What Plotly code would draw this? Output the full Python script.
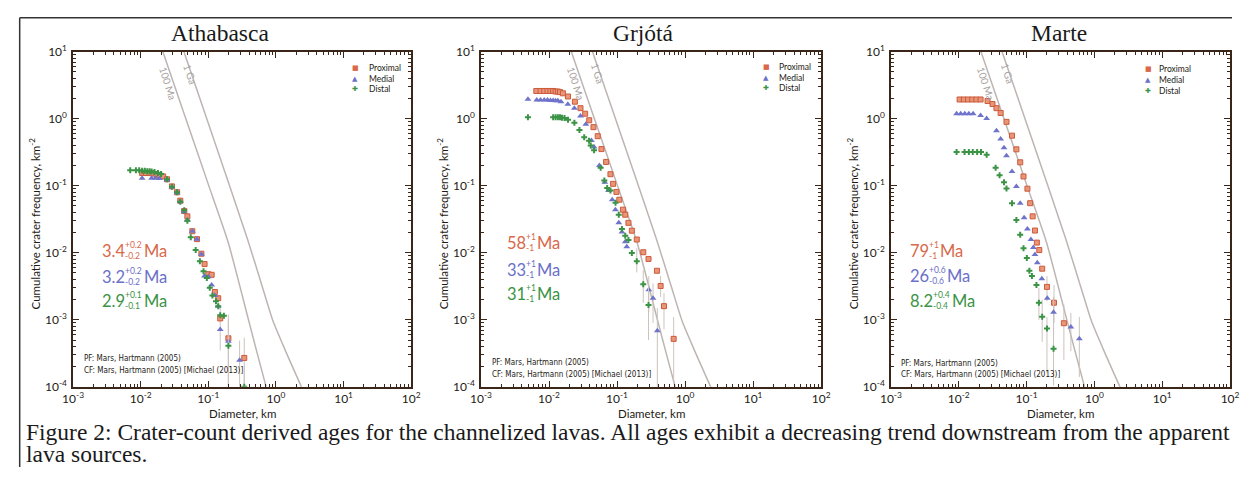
import plotly.graph_objects as go

# ------------------------------------------------------------------ data
panel_titles = ["Athabasca", "Grjótá", "Marte"]
series_names = ["Proximal", "Medial", "Distal"]

x_tickvals = [0.001, 0.01, 0.1, 1, 10, 100]
x_ticktext = ["10<sup>-3</sup>", "10<sup>-2</sup>", "10<sup>-1</sup>", "10<sup>0</sup>", "10<sup>1</sup>", "10<sup>2</sup>"]
y_tickvals = [0.0001, 0.001, 0.01, 0.1, 1, 10]
y_ticktext = ["10<sup>-4</sup>", "10<sup>-3</sup>", "10<sup>-2</sup>", "10<sup>-1</sup>", "10<sup>0</sup>", "10<sup>1</sup>"]

# Isochrons (Hartmann 2005 PF)
iso_100ma_D = [0.0126, 0.0213, 0.05, 0.1, 0.196, 0.4, 0.703, 1.0]
iso_100ma_N = [47, 10, 0.81, 0.105, 0.0145, 0.00093, 0.000107, 0.000032]
iso_1ga_D = [0.025, 0.0436, 0.126, 0.378, 0.63, 0.908, 1.41, 2.38, 4.0]
iso_1ga_N = [51, 10, 0.43, 0.0162, 0.0031, 0.00095, 0.00033, 0.0001, 0.00003]
iso_labels = ["100 Ma", "1 Ga"]

# Athabasca
ath_prox_D = [0.0105, 0.012, 0.0135, 0.015, 0.017, 0.019, 0.0215, 0.0245, 0.029, 0.0345, 0.0385, 0.044,
              0.049, 0.058, 0.068, 0.079, 0.088, 0.100, 0.112, 0.125, 0.140, 0.150, 0.198, 0.340]
ath_prox_N = [0.155, 0.155, 0.155, 0.153, 0.150, 0.145, 0.138, 0.125, 0.098, 0.080, 0.060, 0.042,
              0.035, 0.021, 0.016, 0.0097, 0.0068, 0.0048, 0.0047, 0.0026, 0.0021, 0.00105, 0.00053, 0.00027]
ath_prox_bar_hi = [0.0016, 0.0012, 0.00054]
ath_prox_bar_lo = [0.00035, 0.00001, 0.00001]

ath_med_D = [0.0105, 0.0145, 0.0165, 0.019, 0.0245, 0.029, 0.0345, 0.0385, 0.044, 0.049, 0.058, 0.068,
             0.079, 0.088, 0.100, 0.112, 0.125, 0.140, 0.150, 0.198, 0.290]
ath_med_N = [0.130, 0.130, 0.130, 0.128, 0.122, 0.096, 0.079, 0.058, 0.041, 0.031, 0.021, 0.016,
             0.0095, 0.0045, 0.0044, 0.0033, 0.0023, 0.0016, 0.00072, 0.00048, 0.00025]
ath_med_bar_hi = [0.0010, 0.00049]
ath_med_bar_lo = [0.00020, 0.00001]

ath_dist_D = [0.0070, 0.0085, 0.0095, 0.0105, 0.0115, 0.0125, 0.0135, 0.0145, 0.016, 0.018, 0.020, 0.0245,
              0.029, 0.0345, 0.0385, 0.044, 0.049, 0.055, 0.065, 0.075, 0.085, 0.095, 0.105, 0.115,
              0.130, 0.140, 0.150, 0.170, 0.198, 0.340]
ath_dist_N = [0.170, 0.170, 0.170, 0.168, 0.168, 0.165, 0.165, 0.163, 0.160, 0.155, 0.150, 0.125,
              0.097, 0.080, 0.058, 0.043, 0.030, 0.017, 0.011, 0.0075, 0.0053, 0.0042, 0.0030, 0.0023,
              0.0019, 0.0016, 0.00117, 0.00115, 0.00041, 0.00010]
ath_dist_bar_hi = [0.0009, 0.0002]
ath_dist_bar_lo = [0.0001, 0.00001]

# Grjótá
grj_prox_D = [0.0065, 0.0075, 0.0085, 0.0095, 0.0105, 0.0115, 0.0125, 0.0135, 0.0145, 0.016, 0.019, 0.024,
              0.029, 0.034, 0.039, 0.045, 0.052, 0.059, 0.069, 0.080, 0.0875, 0.098, 0.108, 0.122, 0.132,
              0.147, 0.165, 0.195, 0.243, 0.29, 0.386, 0.437, 0.49, 0.68]
grj_prox_N = [2.6, 2.6, 2.6, 2.6, 2.6, 2.6, 2.55, 2.55, 2.5, 2.4, 2.15, 1.8,
              1.44, 1.19, 0.95, 0.75, 0.55, 0.353, 0.227, 0.149, 0.107, 0.081, 0.062, 0.044, 0.037,
              0.028, 0.0214, 0.0158, 0.0102, 0.0081, 0.0054, 0.0032, 0.0016, 0.00052]
grj_prox_bar_hi = [0.0045, 0.0025, 0.0011]
grj_prox_bar_lo = [0.0022, 0.00072, 0.00012]

grj_med_D = [0.0049, 0.0066, 0.0075, 0.0085, 0.0095, 0.0105, 0.0115, 0.0125, 0.0135, 0.015, 0.0189, 0.0236,
             0.029, 0.0348, 0.042, 0.046, 0.055, 0.066, 0.075, 0.085, 0.0946, 0.106, 0.118, 0.132,
             0.139, 0.293, 0.338, 0.391]
grj_med_N = [1.95, 1.9, 1.9, 1.9, 1.9, 1.88, 1.88, 1.85, 1.85, 1.8, 1.65, 1.44,
             1.1, 0.83, 0.475, 0.38, 0.2, 0.113, 0.085, 0.062, 0.044, 0.028, 0.0204, 0.0146,
             0.0123, 0.0028, 0.0021, 0.00069]
grj_med_bar_hi = [0.0045, 0.0035, 0.0015]
grj_med_bar_lo = [0.0013, 0.0009, 0.00001]

grj_dist_D = [0.0049, 0.0115, 0.0125, 0.0135, 0.0145, 0.0155, 0.0169, 0.019, 0.0236, 0.028, 0.0329, 0.0388,
              0.041, 0.046, 0.0574, 0.065, 0.0716, 0.08, 0.095, 0.106, 0.118, 0.132, 0.147, 0.165,
              0.195, 0.243, 0.29]
grj_dist_N = [1.05, 1.05, 1.05, 1.05, 1.05, 1.04, 1.03, 0.97, 0.87, 0.68, 0.53, 0.47,
              0.40, 0.34, 0.186, 0.12, 0.093, 0.085, 0.056, 0.037, 0.0226, 0.018, 0.0155, 0.0099,
              0.0075, 0.0034, 0.00166]
grj_dist_bar_hi = [0.0117, 0.0055, 0.0031]
grj_dist_bar_lo = [0.0051, 0.0018, 0.0005]

# Marte
mar_prox_D = [0.0103, 0.0119, 0.0137, 0.0158, 0.0182, 0.0210, 0.0266, 0.0315, 0.0360, 0.0415, 0.0506, 0.061,
              0.0708, 0.0806, 0.0902, 0.103, 0.113, 0.123, 0.133, 0.142, 0.154, 0.170, 0.200, 0.254, 0.355]
mar_prox_N = [1.94, 1.94, 1.94, 1.94, 1.94, 1.94, 1.84, 1.66, 1.44, 1.22, 0.90, 0.56,
              0.35, 0.224, 0.138, 0.0906, 0.055, 0.035, 0.0215, 0.0142, 0.011, 0.0058, 0.0031, 0.0018, 0.00089]
mar_prox_bar_hi = [0.0045, 0.0033, 0.0017]
mar_prox_bar_lo = [0.0019, 0.0009, 0.00025]

mar_med_D = [0.0093, 0.0107, 0.0123, 0.0141, 0.0163, 0.0210, 0.0258, 0.036, 0.0415, 0.0465, 0.0506, 0.061,
             0.0708, 0.0806, 0.092, 0.103, 0.116, 0.126, 0.133, 0.144, 0.168, 0.202, 0.250, 0.450, 0.600]
mar_med_N = [1.19, 1.19, 1.19, 1.19, 1.19, 1.12, 1.01, 0.66, 0.50, 0.37, 0.28, 0.163,
             0.098, 0.055, 0.0334, 0.0227, 0.0158, 0.012, 0.0094, 0.0071, 0.0041, 0.0021, 0.0013, 0.00078, 0.00052]
mar_med_bar_hi = [0.0022, 0.00127, 0.0011]
mar_med_bar_lo = [0.0006, 0.00034, 0.00014]

mar_dist_D = [0.0093, 0.0122, 0.0141, 0.0161, 0.0187, 0.0213, 0.0258, 0.035, 0.040, 0.0465, 0.0506, 0.061,
              0.0708, 0.0806, 0.0902, 0.101, 0.110, 0.120, 0.140, 0.152, 0.170, 0.200, 0.250]
mar_dist_N = [0.32, 0.32, 0.32, 0.32, 0.32, 0.32, 0.29, 0.186, 0.144, 0.113, 0.091, 0.055,
              0.031, 0.0186, 0.0117, 0.0084, 0.0054, 0.0045, 0.0033, 0.0018, 0.00111, 0.00074, 0.00037]
mar_dist_bar_hi = [0.003, 0.002, 0.0011, 0.00077]
mar_dist_bar_lo = [0.001, 0.00047, 0.00016, 0.000105]

age_values = [["3.4", "3.2", "2.9"], ["58", "33", "31"], ["79", "26", "8.2"]]
age_plus = [["+0.2", "+0.2", "+0.1"], ["+1", "+1", "+1"], ["+1", "+0.6", "+0.4"]]
age_minus = [["-0.2", "-0.2", "-0.1"], ["-1", "-1", "-1"], ["-1", "-0.6", "-0.4"]]
age_unit = "Ma"

pf_text = "PF: Mars, Hartmann (2005)"
cf_text = "CF: Mars, Hartmann (2005) [Michael (2013)]"
x_title = "Diameter, km"
y_title = "Cumulative crater frequency, km<sup>-2</sup>"
caption_lines = [
    "Figure 2: Crater-count derived ages for the channelized lavas. All ages exhibit a decreasing trend downstream from the apparent",
    "lava sources.",
]

panel_data = [
    [(ath_prox_D, ath_prox_N, ath_prox_bar_hi, ath_prox_bar_lo),
     (ath_med_D, ath_med_N, ath_med_bar_hi, ath_med_bar_lo),
     (ath_dist_D, ath_dist_N, ath_dist_bar_hi, ath_dist_bar_lo)],
    [(grj_prox_D, grj_prox_N, grj_prox_bar_hi, grj_prox_bar_lo),
     (grj_med_D, grj_med_N, grj_med_bar_hi, grj_med_bar_lo),
     (grj_dist_D, grj_dist_N, grj_dist_bar_hi, grj_dist_bar_lo)],
    [(mar_prox_D, mar_prox_N, mar_prox_bar_hi, mar_prox_bar_lo),
     (mar_med_D, mar_med_N, mar_med_bar_hi, mar_med_bar_lo),
     (mar_dist_D, mar_dist_N, mar_dist_bar_hi, mar_dist_bar_lo)],
]

# ------------------------------------------------------------------ style / layout
# The page body keeps the browser's 8px margin, so the figure is made 16px
# smaller than the window and all positions below (window pixels) are shifted.
PAGE_MARGIN = 8
WIN_W, WIN_H = 1250, 482
W, H = WIN_W - 2 * PAGE_MARGIN, WIN_H - 2 * PAGE_MARGIN

SANS = "Lato, 'Open Sans', sans-serif"
NARROW = "'DejaVu Sans Condensed', Lato, sans-serif"
SERIF = "'Liberation Serif', 'Times New Roman', serif"
AXIS_COL = "#3a2618"
TEXT_COL = "#231a14"
ISO_COL = "#bdb5b2"
BAR_COL = "#cbc3bf"

series_colors = ["#d8694a", "#6b70c8", "#3b9345"]
marker_styles = [
    dict(symbol="square", size=5, color="#e99678", line=dict(color="#cc5a3c", width=1)),
    dict(symbol="triangle-up", size=6, color="#6f74cb", line=dict(width=0)),
    dict(symbol="cross", size=5, color="#3b9345", line=dict(width=0)),
]
legend_glyphs = ["■", "▲", "✚"]

plot_left = [63, 478, 895]
plot_right = [407, 824, 1240]
plot_top, plot_bottom = 44, 391
title_x = [212, 643, 1066]
legend_marker_x = [350, 768, 1157]
legend_text_x = [362, 779, 1166]
legend_rows_y = [[61, 72, 83], [60, 71, 82], [62, 73, 85]]
pf_pos = [(72, 362, 374), (487, 366, 378), (903, 367, 378)]
age_value_x = [90, 502, 912]
age_row_y = [[250, 277, 302], [242, 270, 295], [250, 276, 302]]
AGE_SIZE, AGE_SUB_SIZE = 16.5, 8.5

# approximate Lato advance widths (em) used to butt the age pieces together
_adv = {".": 0.27, "+": 0.58, "-": 0.37, "M": 0.88, "a": 0.51}


def est_width(text, size):
    return sum(_adv.get(c, 0.58) for c in text) * size


def pxx(x):
    return (x - PAGE_MARGIN) / W


def pxy(y):
    return 1 - (y - PAGE_MARGIN) / H


fig = go.Figure()
annotations = []


def add_text(text, x, y, size, color=TEXT_COL, family=SANS, xanchor="left", angle=0):
    annotations.append(dict(text=text, x=pxx(x), y=pxy(y), xref="paper", yref="paper", showarrow=False,
                            xanchor=xanchor, yanchor="middle", textangle=angle,
                            font=dict(family=family, size=size, color=color)))


for i in range(3):
    xname = "x" if i == 0 else f"x{i + 1}"
    yname = "y" if i == 0 else f"y{i + 1}"

    for D, N in ((iso_100ma_D, iso_100ma_N), (iso_1ga_D, iso_1ga_N)):
        fig.add_trace(go.Scatter(x=D, y=N, mode="lines",
                                 line=dict(color=ISO_COL, width=1.5, shape="spline", smoothing=0.6),
                                 xaxis=xname, yaxis=yname, showlegend=False, hoverinfo="skip"))

    for s, (D, N, bar_hi, bar_lo) in enumerate(panel_data[i]):
        k = len(bar_hi)
        plus = [0.0] * (len(N) - k) + [hi - n for hi, n in zip(bar_hi, N[-k:])]
        minus = [0.0] * (len(N) - k) + [n - lo for lo, n in zip(bar_lo, N[-k:])]
        fig.add_trace(go.Scatter(
            x=D, y=N, mode="markers", name=series_names[s], marker=marker_styles[s],
            error_y=dict(type="data", symmetric=False, array=plus, arrayminus=minus,
                         color=BAR_COL, thickness=1, width=0),
            xaxis=xname, yaxis=yname, showlegend=False))

    ax_common = dict(
        type="log", showgrid=False, zeroline=False, showline=True, linecolor=AXIS_COL, linewidth=1.5,
        ticks="inside", ticklen=6, tickwidth=1.2, tickcolor=AXIS_COL, mirror="allticks",
        tickfont=dict(family=SANS, size=12, color=TEXT_COL),
        minor=dict(ticks="inside", ticklen=3, tickwidth=1, tickcolor=AXIS_COL, dtick="D1", showgrid=False),
    )
    fig.layout[("xaxis" if i == 0 else f"xaxis{i + 1}")] = dict(
        ax_common, range=[-3, 2], domain=[pxx(plot_left[i]), pxx(plot_right[i])], anchor=yname,
        tickvals=x_tickvals, ticktext=x_ticktext)
    fig.layout[("yaxis" if i == 0 else f"yaxis{i + 1}")] = dict(
        ax_common, range=[-4, 1], domain=[pxy(plot_bottom), pxy(plot_top)], anchor=xname,
        tickvals=y_tickvals, ticktext=y_ticktext, ticklabelstandoff=2)

    add_text(panel_titles[i], title_x[i], 25, 23.5, color="#1a1a1a", family=SERIF, xanchor="center")
    add_text(x_title, (plot_left[i] + plot_right[i]) / 2, 419, 11.5, xanchor="center")
    add_text(y_title, plot_left[i] - 39, 222, 11.5, xanchor="center", angle=-90)

    for s in range(3):
        add_text(legend_glyphs[s], legend_marker_x[i], legend_rows_y[i][s], 7, color=series_colors[s],
                 family="DejaVu Sans", xanchor="center")
        add_text(series_names[s], legend_text_x[i], legend_rows_y[i][s], 8.5)

    add_text(pf_text, pf_pos[i][0], pf_pos[i][1], 8, family=NARROW)
    add_text(cf_text, pf_pos[i][0], pf_pos[i][2], 8, family=NARROW)

    for lab, (dx, yy) in zip(iso_labels, [(97, 77), (119, 67)]):
        add_text(lab, plot_left[i] + dx, yy, 10, color="#aaa2a0", xanchor="center", angle=72)

    for r in range(3):
        col = series_colors[r]
        yy = age_row_y[i][r]
        x0 = age_value_x[i]
        add_text(age_values[i][r], x0, yy, AGE_SIZE, color=col)
        xs = x0 + est_width(age_values[i][r], AGE_SIZE) + 0.5
        add_text(age_plus[i][r], xs, yy - 6, AGE_SUB_SIZE, color=col)
        add_text(age_minus[i][r], xs, yy + 5, AGE_SUB_SIZE, color=col)
        xu = xs + max(est_width(age_plus[i][r], AGE_SUB_SIZE), est_width(age_minus[i][r], AGE_SUB_SIZE)) + 1.5
        add_text(age_unit, xu, yy, AGE_SIZE, color=col)

for line, yy in zip(caption_lines, [438, 461]):
    add_text(line, 13, yy, 23.5, color="#1a1a1a", family=SERIF)

fig.update_layout(
    width=W, height=H, margin=dict(l=0, r=0, t=0, b=0, pad=0),
    paper_bgcolor="white", plot_bgcolor="white", showlegend=False,
    annotations=annotations,
    shapes=[
        dict(type="line", xref="paper", yref="paper", x0=0.7 / W, x1=1, y0=1 - 0.7 / H, y1=1 - 0.7 / H,
             line=dict(color="#333333", width=1.5)),
        dict(type="line", xref="paper", yref="paper", x0=0.7 / W, x1=0.7 / W, y0=1 - 0.7 / H, y1=0,
             line=dict(color="#333333", width=1.5)),
    ],
)

fig.write_html("out.html", config={"displayModeBar": False})
